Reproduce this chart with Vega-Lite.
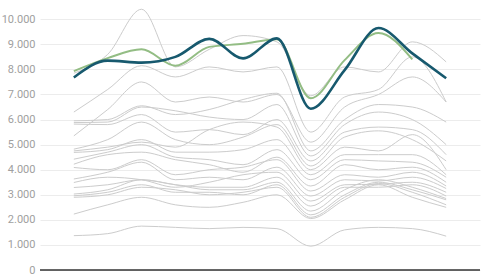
{
  "$schema": "https://vega.github.io/schema/vega-lite/v6.json",
  "width": 440,
  "height": 262,
  "autosize": {"type": "none"},
  "padding": {"left": 40, "top": 8, "right": 9, "bottom": 5},
  "config": {
    "locale": {"number": {"decimal": ",", "thousands": ".", "grouping": [3], "currency": ["", " €"]}},
    "view": {"stroke": null},
    "font": "Roboto",
    "axisY": {"values": [0,1000,2000,3000,4000,5000,6000,7000,8000,9000,10000], "tickCount": 11, "format": ",.0f", "title": null,
      "domain": false, "ticks": false, "labelPadding": 5, "labelColor": "#a0a0a0", "labelFontSize": 11,
      "labelOverlap": false, "labelFlush": false, "gridColor": "#ececec", "gridWidth": 1}
  },
  "datasets": {
    "gray": [
      {"s":"g1","x":0,"v":7850},{"s":"g1","x":1,"v":8600},{"s":"g1","x":2,"v":10400},{"s":"g1","x":3,"v":8100},{"s":"g1","x":4,"v":8800},{"s":"g1","x":5,"v":9350},{"s":"g1","x":6,"v":9100},{"s":"g1","x":7,"v":6950},{"s":"g1","x":8,"v":8100},{"s":"g1","x":9,"v":7900},{"s":"g1","x":10,"v":9100},{"s":"g1","x":11,"v":8300},
      {"s":"g2","x":0,"v":6300},{"s":"g2","x":1,"v":7200},{"s":"g2","x":2,"v":8150},{"s":"g2","x":3,"v":7700},{"s":"g2","x":4,"v":8100},{"s":"g2","x":5,"v":7900},{"s":"g2","x":6,"v":8100},{"s":"g2","x":7,"v":5500},{"s":"g2","x":8,"v":6900},{"s":"g2","x":9,"v":7200},{"s":"g2","x":10,"v":8500},{"s":"g2","x":11,"v":6700},
      {"s":"g3","x":0,"v":5350},{"s":"g3","x":1,"v":6400},{"s":"g3","x":2,"v":7500},{"s":"g3","x":3,"v":6700},{"s":"g3","x":4,"v":6900},{"s":"g3","x":5,"v":6700},{"s":"g3","x":6,"v":7000},{"s":"g3","x":7,"v":5100},{"s":"g3","x":8,"v":6500},{"s":"g3","x":9,"v":7000},{"s":"g3","x":10,"v":7700},{"s":"g3","x":11,"v":6700},
      {"s":"g4","x":0,"v":5950},{"s":"g4","x":1,"v":6000},{"s":"g4","x":2,"v":6550},{"s":"g4","x":3,"v":6200},{"s":"g4","x":4,"v":6400},{"s":"g4","x":5,"v":6800},{"s":"g4","x":6,"v":7050},{"s":"g4","x":7,"v":4750},{"s":"g4","x":8,"v":6000},{"s":"g4","x":9,"v":6600},{"s":"g4","x":10,"v":6500},{"s":"g4","x":11,"v":5900},
      {"s":"g5","x":0,"v":5880},{"s":"g5","x":1,"v":5900},{"s":"g5","x":2,"v":6500},{"s":"g5","x":3,"v":6350},{"s":"g5","x":4,"v":6100},{"s":"g5","x":5,"v":6000},{"s":"g5","x":6,"v":6600},{"s":"g5","x":7,"v":4550},{"s":"g5","x":8,"v":5800},{"s":"g5","x":9,"v":6300},{"s":"g5","x":10,"v":6000},{"s":"g5","x":11,"v":5000},
      {"s":"g6","x":0,"v":5820},{"s":"g6","x":1,"v":5800},{"s":"g6","x":2,"v":6200},{"s":"g6","x":3,"v":5500},{"s":"g6","x":4,"v":5600},{"s":"g6","x":5,"v":5400},{"s":"g6","x":6,"v":6000},{"s":"g6","x":7,"v":4350},{"s":"g6","x":8,"v":5500},{"s":"g6","x":9,"v":5700},{"s":"g6","x":10,"v":5600},{"s":"g6","x":11,"v":4600},
      {"s":"g7","x":0,"v":4820},{"s":"g7","x":1,"v":5200},{"s":"g7","x":2,"v":5900},{"s":"g7","x":3,"v":5200},{"s":"g7","x":4,"v":5000},{"s":"g7","x":5,"v":5300},{"s":"g7","x":6,"v":5800},{"s":"g7","x":7,"v":4150},{"s":"g7","x":8,"v":5300},{"s":"g7","x":9,"v":5550},{"s":"g7","x":10,"v":5200},{"s":"g7","x":11,"v":4350},
      {"s":"g8","x":0,"v":4750},{"s":"g8","x":1,"v":4900},{"s":"g8","x":2,"v":5100},{"s":"g8","x":3,"v":4900},{"s":"g8","x":4,"v":5600},{"s":"g8","x":5,"v":5900},{"s":"g8","x":6,"v":5700},{"s":"g8","x":7,"v":4000},{"s":"g8","x":8,"v":4900},{"s":"g8","x":9,"v":4750},{"s":"g8","x":10,"v":5400},{"s":"g8","x":11,"v":4000},
      {"s":"g9","x":0,"v":4690},{"s":"g9","x":1,"v":4800},{"s":"g9","x":2,"v":5200},{"s":"g9","x":3,"v":4700},{"s":"g9","x":4,"v":4700},{"s":"g9","x":5,"v":4800},{"s":"g9","x":6,"v":5200},{"s":"g9","x":7,"v":3800},{"s":"g9","x":8,"v":4600},{"s":"g9","x":9,"v":4600},{"s":"g9","x":10,"v":4600},{"s":"g9","x":11,"v":3800},
      {"s":"g10","x":0,"v":4420},{"s":"g10","x":1,"v":4700},{"s":"g10","x":2,"v":5000},{"s":"g10","x":3,"v":4500},{"s":"g10","x":4,"v":4400},{"s":"g10","x":5,"v":4200},{"s":"g10","x":6,"v":4800},{"s":"g10","x":7,"v":3600},{"s":"g10","x":8,"v":4400},{"s":"g10","x":9,"v":4350},{"s":"g10","x":10,"v":4300},{"s":"g10","x":11,"v":3700},
      {"s":"g11","x":0,"v":4220},{"s":"g11","x":1,"v":4600},{"s":"g11","x":2,"v":4700},{"s":"g11","x":3,"v":4400},{"s":"g11","x":4,"v":4200},{"s":"g11","x":5,"v":3900},{"s":"g11","x":6,"v":4500},{"s":"g11","x":7,"v":3350},{"s":"g11","x":8,"v":4200},{"s":"g11","x":9,"v":4000},{"s":"g11","x":10,"v":4100},{"s":"g11","x":11,"v":3500},
      {"s":"g12","x":0,"v":4090},{"s":"g12","x":1,"v":4000},{"s":"g12","x":2,"v":4400},{"s":"g12","x":3,"v":3800},{"s":"g12","x":4,"v":4000},{"s":"g12","x":5,"v":4100},{"s":"g12","x":6,"v":4400},{"s":"g12","x":7,"v":3150},{"s":"g12","x":8,"v":3800},{"s":"g12","x":9,"v":3700},{"s":"g12","x":10,"v":3900},{"s":"g12","x":11,"v":3350},
      {"s":"g13","x":0,"v":3630},{"s":"g13","x":1,"v":3900},{"s":"g13","x":2,"v":4300},{"s":"g13","x":3,"v":3600},{"s":"g13","x":4,"v":3700},{"s":"g13","x":5,"v":3600},{"s":"g13","x":6,"v":4100},{"s":"g13","x":7,"v":2950},{"s":"g13","x":8,"v":3600},{"s":"g13","x":9,"v":3550},{"s":"g13","x":10,"v":3700},{"s":"g13","x":11,"v":3250},
      {"s":"g14","x":0,"v":3490},{"s":"g14","x":1,"v":3700},{"s":"g14","x":2,"v":3600},{"s":"g14","x":3,"v":3300},{"s":"g14","x":4,"v":3500},{"s":"g14","x":5,"v":3800},{"s":"g14","x":6,"v":3900},{"s":"g14","x":7,"v":2750},{"s":"g14","x":8,"v":3400},{"s":"g14","x":9,"v":3420},{"s":"g14","x":10,"v":3500},{"s":"g14","x":11,"v":3100},
      {"s":"g15","x":0,"v":3290},{"s":"g15","x":1,"v":3400},{"s":"g15","x":2,"v":3600},{"s":"g15","x":3,"v":3400},{"s":"g15","x":4,"v":3300},{"s":"g15","x":5,"v":3300},{"s":"g15","x":6,"v":3700},{"s":"g15","x":7,"v":2550},{"s":"g15","x":8,"v":3300},{"s":"g15","x":9,"v":3300},{"s":"g15","x":10,"v":3400},{"s":"g15","x":11,"v":2950},
      {"s":"g16","x":0,"v":3030},{"s":"g16","x":1,"v":3200},{"s":"g16","x":2,"v":3600},{"s":"g16","x":3,"v":3400},{"s":"g16","x":4,"v":3200},{"s":"g16","x":5,"v":3200},{"s":"g16","x":6,"v":3500},{"s":"g16","x":7,"v":2350},{"s":"g16","x":8,"v":3200},{"s":"g16","x":9,"v":3600},{"s":"g16","x":10,"v":3300},{"s":"g16","x":11,"v":2850},
      {"s":"g17","x":0,"v":2960},{"s":"g17","x":1,"v":3100},{"s":"g17","x":2,"v":3400},{"s":"g17","x":3,"v":3100},{"s":"g17","x":4,"v":3100},{"s":"g17","x":5,"v":3000},{"s":"g17","x":6,"v":3400},{"s":"g17","x":7,"v":2200},{"s":"g17","x":8,"v":3000},{"s":"g17","x":9,"v":3500},{"s":"g17","x":10,"v":3200},{"s":"g17","x":11,"v":2800},
      {"s":"g18","x":0,"v":2900},{"s":"g18","x":1,"v":3000},{"s":"g18","x":2,"v":3300},{"s":"g18","x":3,"v":3200},{"s":"g18","x":4,"v":3000},{"s":"g18","x":5,"v":3100},{"s":"g18","x":6,"v":3300},{"s":"g18","x":7,"v":2100},{"s":"g18","x":8,"v":2900},{"s":"g18","x":9,"v":3450},{"s":"g18","x":10,"v":3100},{"s":"g18","x":11,"v":2600},
      {"s":"g19","x":0,"v":2230},{"s":"g19","x":1,"v":2600},{"s":"g19","x":2,"v":2900},{"s":"g19","x":3,"v":2600},{"s":"g19","x":4,"v":2500},{"s":"g19","x":5,"v":2700},{"s":"g19","x":6,"v":3000},{"s":"g19","x":7,"v":2050},{"s":"g19","x":8,"v":2800},{"s":"g19","x":9,"v":3400},{"s":"g19","x":10,"v":2900},{"s":"g19","x":11,"v":2500},
      {"s":"g20","x":0,"v":1370},{"s":"g20","x":1,"v":1450},{"s":"g20","x":2,"v":1750},{"s":"g20","x":3,"v":1700},{"s":"g20","x":4,"v":1650},{"s":"g20","x":5,"v":1700},{"s":"g20","x":6,"v":1650},{"s":"g20","x":7,"v":950},{"s":"g20","x":8,"v":1600},{"s":"g20","x":9,"v":1700},{"s":"g20","x":10,"v":1650},{"s":"g20","x":11,"v":1350}
    ],
    "green": [
      {"x":0,"v":7930},{"x":1,"v":8450},{"x":2,"v":8800},{"x":3,"v":8150},{"x":4,"v":8900},{"x":5,"v":9020},{"x":6,"v":9200},{"x":7,"v":6850},{"x":8,"v":8370},{"x":9,"v":9450},{"x":10,"v":8400}
    ],
    "teal": [
      {"x":0,"v":7680},{"x":1,"v":8350},{"x":2,"v":8270},{"x":3,"v":8500},{"x":4,"v":9220},{"x":5,"v":8440},{"x":6,"v":9240},{"x":7,"v":6430},{"x":8,"v":7970},{"x":9,"v":9650},{"x":10,"v":8640},{"x":11,"v":7650}
    ],
    "zero": [{"v": 0}]
  },
  "layer": [
    {
      "data": {"name": "gray"},
      "mark": {"type": "line", "interpolate": "monotone", "stroke": "#cccccc", "strokeWidth": 1},
      "encoding": {
        "x": {"field": "x", "type": "quantitative", "scale": {"domain": [-0.2, 11.2]}, "axis": null},
        "y": {"field": "v", "type": "quantitative", "scale": {"domain": [0, 10450], "nice": false}},
        "detail": {"field": "s"}
      }
    },
    {
      "data": {"name": "green"},
      "mark": {"type": "line", "interpolate": "monotone", "stroke": "#93bd84", "strokeWidth": 2},
      "encoding": {
        "x": {"field": "x", "type": "quantitative"},
        "y": {"field": "v", "type": "quantitative"}
      }
    },
    {
      "data": {"name": "teal"},
      "mark": {"type": "line", "interpolate": "monotone", "stroke": "#17596e", "strokeWidth": 2.6},
      "encoding": {
        "x": {"field": "x", "type": "quantitative"},
        "y": {"field": "v", "type": "quantitative"}
      }
    },
    {
      "data": {"name": "zero"},
      "mark": {"type": "rule", "stroke": "#333333", "strokeWidth": 1.5},
      "encoding": {
        "y": {"field": "v", "type": "quantitative"}
      }
    }
  ]
}
